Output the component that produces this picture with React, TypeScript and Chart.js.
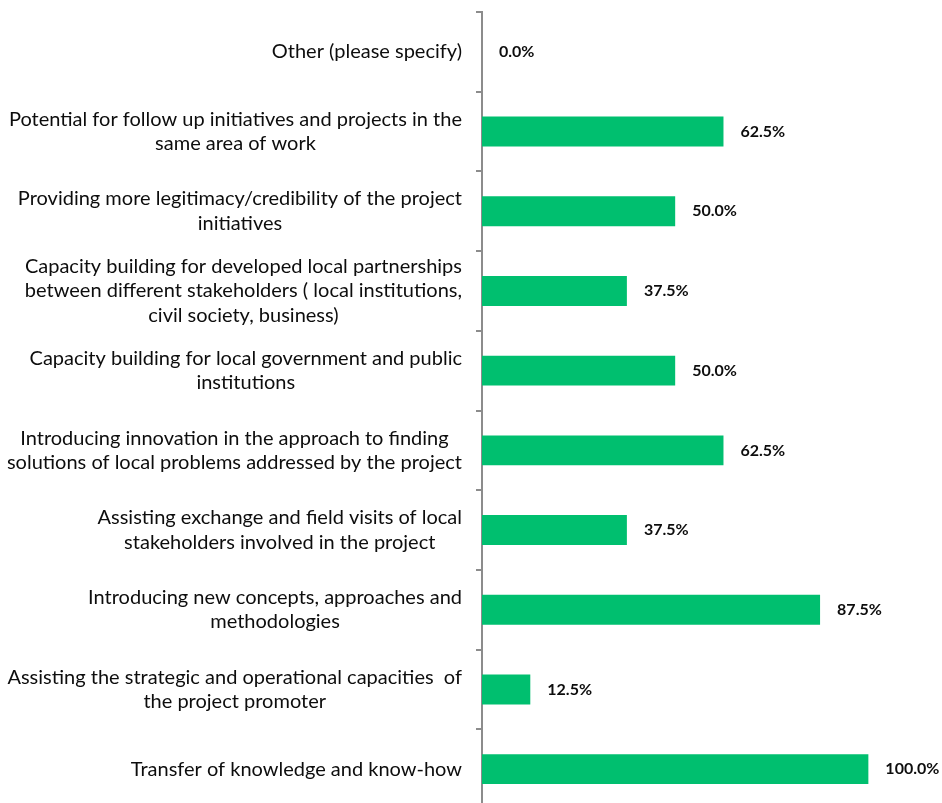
import React, { useEffect, useRef } from "react";
import { Chart, registerables } from "chart.js";

Chart.register(...registerables);

const categories: string[][] = [
  ["Other (please specify)"],
  ["Potential for follow up initiatives and projects in the", "same area of work"],
  ["Providing more legitimacy/credibility of the project", "initiatives"],
  ["Capacity building for developed local partnerships", "between different stakeholders ( local institutions,", "civil society, business)"],
  ["Capacity building for local government and public", "institutions"],
  ["Introducing innovation in the approach to finding", "solutions of local problems addressed by the project"],
  ["Assisting exchange and field visits of local", "stakeholders involved in the project"],
  ["Introducing new concepts, approaches and", "methodologies"],
  ["Assisting the strategic and operational capacities  of", "the project promoter"],
  ["Transfer of knowledge and know-how"],
];

const values: number[] = [0.0, 62.5, 50.0, 37.5, 50.0, 62.5, 37.5, 87.5, 12.5, 100.0];

const BAR_COLOR = "#00BF6F";
const AXIS_COLOR = "#8C8C8C";
const FONT_FAMILY = "Lato, 'Open Sans', sans-serif";

const labelPlugin = {
  id: "customLabels",
  afterDraw(chart: any) {
    const ctx = chart.ctx;
    const yScale = chart.scales.y;
    const area = chart.chartArea;
    ctx.save();
    // category labels
    ctx.font = `20px ${FONT_FAMILY}`;
    ctx.fillStyle = "#0d0d0d";
    ctx.textAlign = "center";
    ctx.textBaseline = "middle";
    const lineH = 24.5;
    const rightEdge = area.left - 20;
    categories.forEach((lines, i) => {
      const cy = yScale.getPixelForValue(i);
      const w = Math.max(...lines.map((l) => ctx.measureText(l).width));
      const cx = rightEdge - w / 2;
      const startY = cy - ((lines.length - 1) * lineH) / 2;
      lines.forEach((l, j) => ctx.fillText(l, cx, startY + j * lineH));
    });
    // value labels
    ctx.font = `bold 16px ${FONT_FAMILY}`;
    ctx.textAlign = "left";
    const meta = chart.getDatasetMeta(0);
    meta.data.forEach((bar: any, i: number) => {
      ctx.fillText(values[i].toFixed(1) + "%", bar.x + 17, bar.y);
    });
    ctx.restore();
  },
};

export default function App() {
  const canvasRef = useRef<HTMLCanvasElement | null>(null);
  useEffect(() => {
    if (!canvasRef.current) return;
    const chart = new Chart(canvasRef.current, {
      type: "bar",
      data: {
        labels: categories.map((c) => c.join(" ")),
        datasets: [
          {
            data: values,
            backgroundColor: BAR_COLOR,
            barPercentage: 0.75,
            categoryPercentage: 0.5,
          },
        ],
      },
      options: {
        indexAxis: "y",
        animation: false,
        responsive: false,
        maintainAspectRatio: false,
        layout: { padding: { top: 12, bottom: 1, right: 35, left: 0 } },
        plugins: { legend: { display: false }, tooltip: { enabled: false } },
        scales: {
          x: { display: false, min: 0, max: 110 },
          y: {
            offset: true,
            ticks: { display: false },
            grid: {
              offset: true,
              drawOnChartArea: false,
              drawTicks: true,
              tickLength: 6,
              color: AXIS_COLOR,
              lineWidth: 2,
            },
            border: { display: true, color: AXIS_COLOR, width: 2 },
            afterFit(scale: any) {
              scale.width = 482;
            },
          },
        },
      },
      plugins: [labelPlugin],
    });
    return () => chart.destroy();
  }, []);
  return (
    <div style={{ position: "absolute", left: 0, top: 0, width: 942, height: 810 }}>
      <canvas ref={canvasRef} width={942} height={810} style={{ display: "block" }} />
    </div>
  );
}
